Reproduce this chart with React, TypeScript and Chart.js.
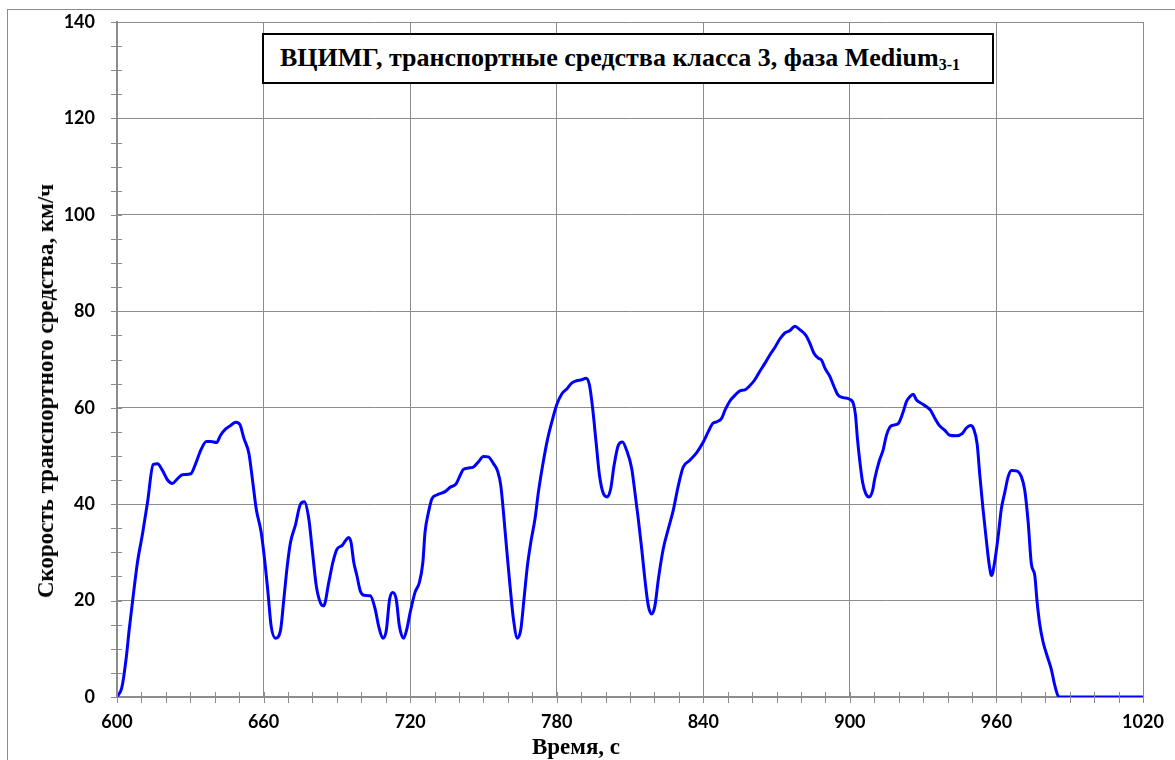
import React, { useEffect, useRef } from "react";
import { Chart, registerables } from "chart.js";

Chart.register(...registerables);

// Time, s
const timeSec: number[] = [
  600, 602, 603.7, 605, 606.4, 608.4, 610.5, 612.5, 614.8, 616.6, 618.6, 620.7, 622.7, 624.8, 626.8,
  630.2, 632.2, 634.3, 636.6, 638.4, 640.8, 642.4, 644.5, 646.5, 648.6, 650.3, 652, 654, 655.4, 657,
  659, 660.4, 661.8, 663.1, 664.9, 666.9, 668.3, 669.7, 671, 673, 675.1, 676.7, 678.5, 679.9, 681.6,
  683.3, 684.6, 686.7, 688.4, 690.1, 692.1, 693.5, 694.8, 695.8, 696.9, 698.2, 699.6, 701.2, 703.7,
  705.7, 707.1, 708.8, 710.2, 711.6, 712.9, 714.3, 715.6, 717.3, 718.6, 720, 722, 723.8, 725.2, 726.1,
  727.5, 728.9, 730.9, 734.3, 736.4, 738.8, 740.5, 741.8, 743.9, 745.9, 748, 750, 752, 754.1, 755.9,
  757.1, 758.2, 759.5, 760.9, 762.3, 763.9, 765.3, 766.6, 768, 769.4, 771.1, 772.5, 774.5, 776.3,
  778.4, 780, 782, 784.1, 786.1, 788.2, 790.2, 792, 793.4, 794.7, 796.1, 797.5, 799.1, 800.7, 802.1,
  803.5, 805.2, 806.9, 808.6, 810.7, 812, 813.4, 814.8, 816.1, 817.5, 818.9, 820.2, 821.6, 823.6,
  825.7, 827.7, 829.8, 831.8, 834.5, 837.3, 840, 842, 843.8, 845.5, 847.5, 848.9, 850.9, 853, 855,
  857, 859.1, 861.1, 863.2, 865.2, 867.3, 869.3, 871.4, 873.4, 875.5, 877.5, 879.5, 882, 883.6, 885.3,
  887, 888.4, 889.8, 891.8, 893.5, 895.2, 897.3, 899.7, 901.4, 902.3, 903.1, 904.1, 905.2, 906.5,
  907.9, 909.3, 910.2, 912, 913.6, 915, 916.4, 918, 919.8, 921.6, 923.2, 924.6, 925.9, 927.3, 929.3,
  931.4, 933, 934.8, 936.5, 938.9, 940.9, 943.6, 946.1, 947.7, 949.4, 950.7, 952.1, 953.2, 954.5,
  955.9, 957, 958, 959.3, 960.7, 962, 963.4, 964.8, 966.1, 968.2, 970.2, 971.6, 973, 974.3, 975.7,
  976.6, 977.7, 979.1, 980.7, 982.5, 983.9, 985.6, 1020,
];

// Vehicle speed, km/h
const speedKmh: number[] = [
  0, 2, 7.8, 14, 20, 28, 34, 40.4, 48.2, 48.4, 47, 45, 44.3, 45.3, 46.1,
  46.3, 48.4, 51.2, 53, 53, 52.8, 54.3, 55.6, 56.3, 57, 56.5, 53.6, 50.5, 45.3, 39,
  34.2, 28.6, 21.7, 14.7, 12.2, 13.7, 20.3, 27.2, 32, 35.6, 40, 40.5, 37, 30.7, 23,
  19.5, 18.9, 23.8, 28, 30.7, 31.4, 32.4, 33.1, 32.1, 28, 25.2, 22, 21.1, 21,
  18.2, 14.7, 12.2, 13.7, 20.3, 21.7, 20.3, 14.7, 12.2, 14, 17.5, 21.7, 23.8, 27.9, 34.2,
  38.3, 41.1, 41.9, 42.6, 43.5, 44.2, 46, 47.2, 47.5, 47.7, 48.8, 49.9, 49.8, 48.4, 46.7,
  43.9, 38.3, 30.7, 23, 16.1, 12.2, 14, 20.3, 27.2, 32.1, 36.9, 42.5, 48.8, 53.6,
  57.8, 60.6, 62.8, 63.9, 65.1, 65.6, 65.8, 66.1, 64.7, 59.9, 52.9, 46, 42.2, 41.5, 43.2,
  48.1, 52.2, 52.9, 51.2, 47.4, 42.5, 36.9, 30.7, 24.4, 18.9, 17.2, 18.9, 24.4, 30.7,
  34.9, 38.7, 43.9, 47.7, 49.1, 50.7, 52.9, 55, 56.7, 57.1, 57.8, 59.5, 61.4, 62.6, 63.5,
  63.7, 64.6, 65.8, 67.6, 69.2, 71, 72.5, 74.3, 75.5, 76, 76.9, 76.2, 75, 73.4, 71.3,
  70.3, 69.9, 68.2, 66.5, 64.4, 62.6, 62.1, 61.8, 60.9, 58.5, 53.6, 48.8, 44.6, 42.2,
  41.5, 42.8, 45.3, 48.9, 51.2, 54.3, 56, 56.4, 56.7, 58.8, 61.3, 62.3, 62.8, 61.6, 60.9,
  60.2, 59.5, 57.8, 56.4, 55.3, 54.3, 54.2, 54.7, 55.8, 56.3, 55.6, 52.5, 46, 39,
  32.4, 27.6, 25.2, 28.1, 33.3, 39, 42.4, 45.7, 47, 46.9, 45.7, 42.9, 36.2, 27.6, 25.2,
  20, 15.2, 11.4, 8.6, 5.7, 2.4, 0, 0,
];

const xMin = 600;
const xMax = 1020;
const xMinorStep = 10;
const xMajorStep = 60;
const yMin = 0;
const yMax = 140;
const yMinorStep = 5;
const yMajorStep = 20;

const chartTitle = "ВЦИМГ, транспортные средства класса 3, фаза Medium";
const chartTitleSub = "3-1";
const yAxisTitle = "Скорость транспортного средства, км/ч";
const xAxisTitle = "Время, с";

const GRID = "#8c8c8c";

const minorTicksPlugin = {
  id: "minorTicks",
  afterDraw(chart: any) {
    const { ctx, chartArea, scales } = chart;
    const xs = scales.x;
    const ys = scales.y;
    ctx.save();
    ctx.strokeStyle = GRID;
    ctx.lineWidth = 1;
    ctx.beginPath();
    for (let v = xMin; v <= xMax; v += xMinorStep) {
      const px = Math.round(xs.getPixelForValue(v)) + 0.5;
      ctx.moveTo(px, chartArea.bottom - 5);
      ctx.lineTo(px, chartArea.bottom + 6);
    }
    for (let v = yMin; v <= yMax; v += yMinorStep) {
      const py = Math.round(ys.getPixelForValue(v)) + 0.5;
      ctx.moveTo(chartArea.left - 6, py);
      ctx.lineTo(chartArea.left + 5, py);
    }
    ctx.stroke();
    ctx.restore();
  },
};

export default function App() {
  const canvasRef = useRef<HTMLCanvasElement | null>(null);

  useEffect(() => {
    if (!canvasRef.current) return;
    const points = timeSec.map((t, i) => ({ x: t, y: speedKmh[i] }));
    const chart = new Chart(canvasRef.current, {
      type: "line",
      data: {
        datasets: [
          {
            data: points,
            borderColor: "#0000ff",
            borderWidth: 3,
            pointRadius: 0,
            fill: false,
            cubicInterpolationMode: "monotone",
          },
        ],
      },
      options: {
        animation: false,
        responsive: false,
        devicePixelRatio: 1,
        layout: { autoPadding: false, padding: { left: 0, top: 22, right: 32, bottom: 0 } },
        plugins: {
          legend: { display: false },
          tooltip: { enabled: false },
          title: { display: false },
        },
        scales: {
          x: {
            type: "linear",
            min: xMin,
            max: xMax,
            afterFit: (s: any) => {
              s.height = 63;
              s.paddingLeft = 0;
              s.paddingRight = 0;
              s.paddingTop = 0;
              s.paddingBottom = 0;
            },
            ticks: {
              stepSize: xMinorStep,
              autoSkip: false,
              maxRotation: 0,
              padding: 14,
              color: "#000",
              font: { family: "Lato", weight: "bold", size: 18 },
              callback: (v: any) => (Number(v) % xMajorStep === 0 ? String(v) : ""),
            },
            grid: {
              drawTicks: false,
              lineWidth: 1,
              color: (c: any) =>
                c.tick && c.tick.value % xMajorStep === 0 ? GRID : "rgba(0,0,0,0)",
            },
            border: { display: true, color: GRID, width: 2 },
          },
          y: {
            type: "linear",
            min: yMin,
            max: yMax,
            afterFit: (s: any) => {
              s.width = 117;
              s.paddingLeft = 0;
              s.paddingRight = 0;
              s.paddingTop = 0;
              s.paddingBottom = 0;
            },
            ticks: {
              stepSize: yMinorStep,
              autoSkip: false,
              padding: 22,
              color: "#000",
              font: { family: "Lato", weight: "bold", size: 18 },
              callback: (v: any) => (Number(v) % yMajorStep === 0 ? String(v) : ""),
            },
            grid: {
              drawTicks: false,
              lineWidth: 1,
              color: (c: any) =>
                c.tick && c.tick.value % yMajorStep === 0 ? GRID : "rgba(0,0,0,0)",
            },
            border: { display: true, color: GRID, width: 2 },
          },
        },
      },
      plugins: [minorTicksPlugin],
    } as any);
    return () => chart.destroy();
  }, []);

  const serif = '"Liberation Serif", "Times New Roman", serif';

  return (
    <div
      style={{
        position: "absolute",
        left: 0,
        top: 0,
        width: 1175,
        height: 760,
        overflow: "hidden",
        background: "#fff",
      }}
    >
      <canvas
        ref={canvasRef}
        width={1175}
        height={760}
        style={{ position: "absolute", left: 0, top: 0, width: 1175, height: 760, display: "block" }}
      />
      <div
        style={{
          position: "absolute",
          left: 7,
          top: 9,
          width: 1300,
          height: 900,
          border: "1px solid #8c8c8c",
          boxSizing: "border-box",
          pointerEvents: "none",
          zIndex: 2,
        }}
      />
      <div
        style={{
          position: "absolute",
          left: 262,
          top: 33,
          width: 732,
          height: 51,
          boxSizing: "border-box",
          border: "2px solid #000",
          background: "#fff",
          display: "flex",
          alignItems: "center",
          justifyContent: "center",
          paddingRight: 16,
          fontFamily: serif,
          fontWeight: "bold",
          fontSize: 26,
          color: "#000",
          whiteSpace: "nowrap",
          zIndex: 3,
        }}
      >
        <span>
          {chartTitle}
          <sub style={{ fontSize: 16, verticalAlign: "-4px" }}>{chartTitleSub}</sub>
        </span>
      </div>
      <div
        style={{
          position: "absolute",
          left: 46,
          top: 391,
          transform: "translate(-50%, -50%) rotate(-90deg)",
          fontFamily: serif,
          fontWeight: "bold",
          fontSize: 23,
          color: "#000",
          whiteSpace: "nowrap",
          zIndex: 3,
        }}
      >
        {yAxisTitle}
      </div>
      <div
        style={{
          position: "absolute",
          left: 576,
          top: 747,
          transform: "translate(-50%, -50%)",
          fontFamily: serif,
          fontWeight: "bold",
          fontSize: 23,
          color: "#000",
          whiteSpace: "nowrap",
          zIndex: 3,
        }}
      >
        {xAxisTitle}
      </div>
    </div>
  );
}
